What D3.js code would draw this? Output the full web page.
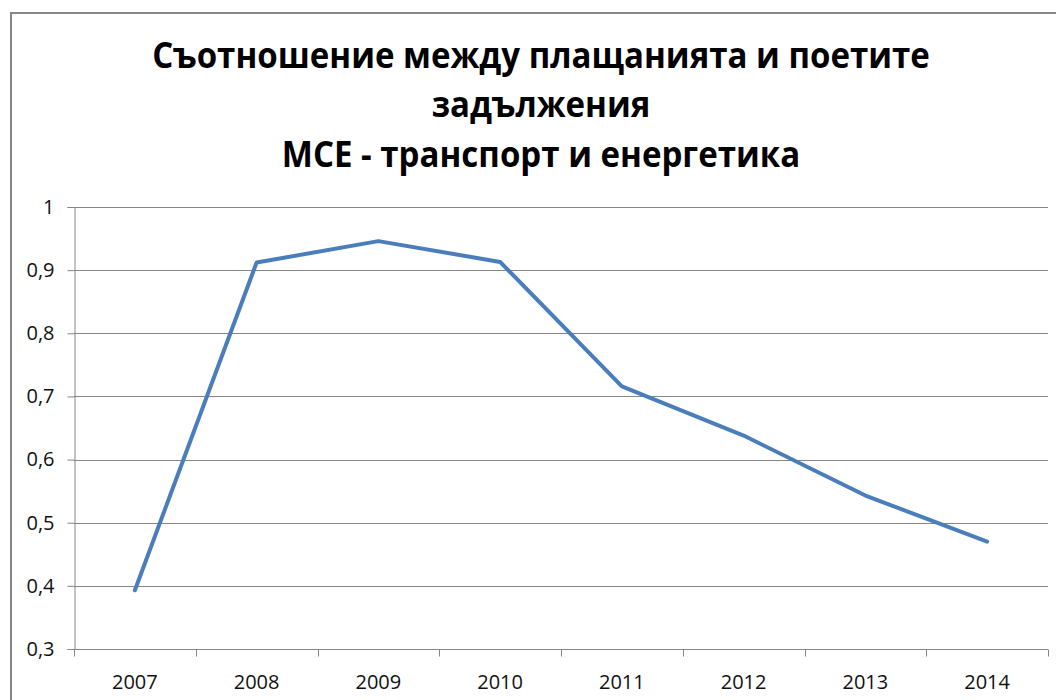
<!DOCTYPE html>
<html>
<head>
<meta charset="utf-8">
<script src="https://cdn.jsdelivr.net/npm/d3@7"></script>
<style>
  body { margin: 0; background: #fff; }
  svg { display: block; }
</style>
</head>
<body>
<svg id="chart" width="1056" height="700"></svg>
<script>
const titleLines = [
  'Съотношение между плащанията и поетите',
  'задължения',
  'МСЕ - транспорт и енергетика'
];
const years = ['2007', '2008', '2009', '2010', '2011', '2012', '2013', '2014'];
const ratio = [0.393, 0.912, 0.946, 0.913, 0.716, 0.638, 0.543, 0.470];
const yTicks = [0.3, 0.4, 0.5, 0.6, 0.7, 0.8, 0.9, 1];

const margin = { top: 207, right: 8, bottom: 51, left: 74 };
const width = 1056 - margin.left - margin.right;
const height = 700 - margin.top - margin.bottom;

const svg = d3.select('#chart');
const bg = '#868686';

// outer chart frame (right and bottom edges fall outside the picture)
svg.append('path')
  .attr('d', 'M11,700 V13 H1056')
  .attr('fill', 'none')
  .attr('stroke', bg)
  .attr('stroke-width', 2);

// title, squeezed horizontally to approach Calibri's width
const title = svg.append('g')
  .attr('transform', 'translate(541,0)');
const titleText = title.selectAll('text')
  .data(titleLines)
  .enter().append('text')
  .attr('x', 0)
  .attr('y', (d, i) => 68 + i * 49.5)
  .attr('text-anchor', 'middle')
  .style('font-family', '"Open Sans", sans-serif')
  .style('font-weight', 'bold')
  .style('font-size', '35px')
  .attr('fill', '#000')
  .text(d => d);
const firstWidth = titleText.node().getComputedTextLength();
title.attr('transform', `translate(541,0) scale(${778 / firstWidth},1)`);

const locale = d3.formatLocale({ decimal: ',', thousands: ' ', grouping: [3], currency: ['', ''] });
const fmt = locale.format('.1~f');

const xScale = d3.scaleBand()
  .domain(years)
  .range([0, width]);

const yScale = d3.scaleLinear()
  .domain([0.3, 1])
  .range([height, 0]);

const g = svg.append('g')
  .attr('transform', `translate(${margin.left},${margin.top})`);

// gridlines
g.append('g')
  .selectAll('line')
  .data(yTicks)
  .enter().append('line')
  .attr('x1', 0)
  .attr('x2', width)
  .attr('y1', d => Math.round(yScale(d)) + 0.5)
  .attr('y2', d => Math.round(yScale(d)) + 0.5)
  .attr('stroke', bg)
  .attr('stroke-width', 1);

// y axis
const yAxis = g.append('g')
  .attr('transform', 'translate(0.5,0)')
  .call(d3.axisLeft(yScale).tickValues(yTicks).tickFormat(fmt).tickSize(7).tickPadding(13));
yAxis.select('.domain').attr('stroke', bg);
yAxis.selectAll('.tick line').attr('stroke', bg);
yAxis.selectAll('text')
  .style('font-family', '"Open Sans", sans-serif')
  .style('font-size', '20px')
  .attr('fill', '#111');

// x axis with ticks between categories
const xAxis = g.append('g')
  .attr('transform', `translate(0,${Math.round(height) + 0.5})`);
xAxis.append('line')
  .attr('x1', 0)
  .attr('x2', width)
  .attr('stroke', bg);
xAxis.selectAll('.sep')
  .data(years.concat(['end']))
  .enter().append('line')
  .attr('class', 'sep')
  .attr('x1', (d, i) => Math.round(i * xScale.step()) + 0.5)
  .attr('x2', (d, i) => Math.round(i * xScale.step()) + 0.5)
  .attr('y1', 0)
  .attr('y2', 7)
  .attr('stroke', bg);
xAxis.selectAll('.lbl')
  .data(years)
  .enter().append('text')
  .attr('class', 'lbl')
  .attr('x', d => xScale(d) + xScale.bandwidth() / 2)
  .attr('y', 39)
  .attr('text-anchor', 'middle')
  .style('font-family', '"Open Sans", sans-serif')
  .style('font-size', '20px')
  .attr('fill', '#111')
  .text(d => d);

// series line
const line = d3.line()
  .x((d, i) => xScale(years[i]) + xScale.bandwidth() / 2)
  .y(d => yScale(d));

g.append('path')
  .datum(ratio)
  .attr('d', line)
  .attr('fill', 'none')
  .attr('stroke', '#4A7EBB')
  .attr('stroke-width', 4)
  .attr('stroke-linejoin', 'round')
  .attr('stroke-linecap', 'round');
</script>
</body>
</html>
